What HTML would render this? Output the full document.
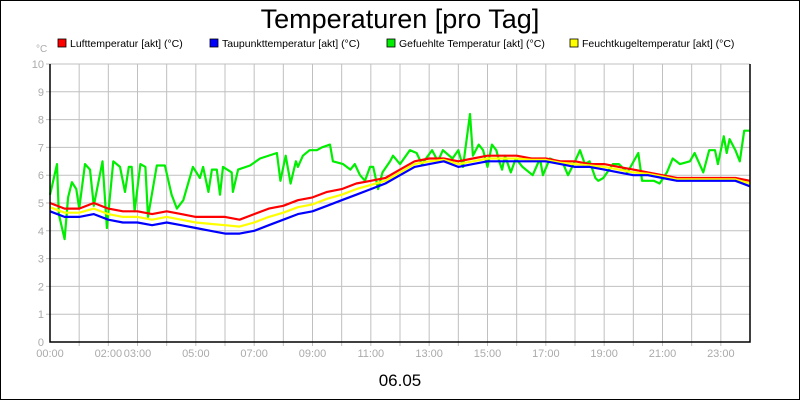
<!DOCTYPE html>
<html><head><meta charset="utf-8"><style>
body{margin:0;background:#fff}
svg{display:block;font-family:"Liberation Sans",sans-serif}
</style></head><body>
<svg id="c" width="800" height="400">
<rect x="0.5" y="0.5" width="799" height="399" fill="#fff" stroke="#000"/>
<text x="400" y="28" font-size="27" text-anchor="middle">Temperaturen [pro Tag]</text>
<text x="400" y="386" font-size="17" text-anchor="middle">06.05</text>
<text x="36" y="52" font-size="10" fill="#aaa">°C</text>
<g id="legend"></g>
<g id="grid"></g>
<g id="series"></g>
<g id="axes"></g>
</svg>
<script>
const halfHours=[];for(let i=0;i<=48;i++)halfHours.push(i/2);
const lufttemp=[5.0,4.8,4.8,5.0,4.8,4.7,4.7,4.6,4.7,4.6,4.5,4.5,4.5,4.4,4.6,4.8,4.9,5.1,5.2,5.4,5.5,5.7,5.8,5.9,6.2,6.5,6.6,6.6,6.5,6.6,6.7,6.7,6.7,6.6,6.6,6.5,6.5,6.4,6.4,6.3,6.2,6.1,6.0,5.9,5.9,5.9,5.9,5.9,5.8];
const taupunkt=[4.7,4.5,4.5,4.6,4.4,4.3,4.3,4.2,4.3,4.2,4.1,4.0,3.9,3.9,4.0,4.2,4.4,4.6,4.7,4.9,5.1,5.3,5.5,5.7,6.0,6.3,6.4,6.5,6.3,6.4,6.5,6.5,6.5,6.5,6.5,6.4,6.3,6.3,6.2,6.1,6.0,6.0,5.9,5.8,5.8,5.8,5.8,5.8,5.6];
const feuchtkugel=[4.85,4.65,4.65,4.8,4.6,4.5,4.5,4.4,4.5,4.4,4.3,4.25,4.2,4.15,4.3,4.5,4.65,4.85,4.95,5.15,5.3,5.5,5.65,5.8,6.1,6.4,6.5,6.55,6.4,6.5,6.6,6.6,6.6,6.55,6.55,6.45,6.4,6.35,6.3,6.2,6.1,6.05,5.95,5.85,5.85,5.85,5.85,5.85,5.7];
const greenHours=[0,0.07,0.24,0.3,0.5,0.62,0.75,0.9,1.0,1.2,1.37,1.5,1.8,1.95,2.17,2.4,2.57,2.7,2.8,2.9,3.1,3.27,3.36,3.66,3.94,4.17,4.35,4.57,4.9,5.14,5.25,5.43,5.55,5.72,5.83,5.93,6.23,6.27,6.45,6.86,7.2,7.78,7.9,8.08,8.25,8.43,8.5,8.67,8.9,9.15,9.32,9.6,9.7,10.05,10.3,10.45,10.63,10.8,10.97,11.08,11.25,11.4,11.66,11.76,12.0,12.34,12.57,12.75,13.1,13.3,13.47,13.8,14.0,14.16,14.4,14.5,14.7,14.85,15.0,15.15,15.3,15.4,15.5,15.6,15.8,15.97,16.2,16.55,16.8,16.9,17.14,17.6,17.76,18.0,18.17,18.34,18.5,18.7,18.8,18.97,19.3,19.5,19.8,20.17,20.3,20.7,20.9,21.15,21.35,21.6,21.94,22.1,22.4,22.6,22.8,22.9,23.1,23.2,23.3,23.5,23.65,23.8,24];
const gefuehlt=[5.3,5.6,6.4,4.6,3.7,5.2,5.75,5.5,4.8,6.4,6.2,4.9,6.5,4.1,6.5,6.3,5.4,6.3,6.3,4.7,6.4,6.3,4.5,6.35,6.35,5.3,4.8,5.1,6.3,5.9,6.3,5.4,6.2,6.2,5.3,6.3,6.1,5.4,6.2,6.35,6.6,6.8,5.8,6.7,5.7,6.5,6.3,6.7,6.9,6.9,7.0,7.1,6.5,6.4,6.2,6.4,6.0,5.8,6.3,6.3,5.5,6.1,6.5,6.7,6.4,6.9,6.8,6.4,6.9,6.5,6.9,6.6,6.9,6.3,8.2,6.7,7.1,6.9,6.3,7.1,6.9,6.5,6.2,6.7,6.1,6.6,6.3,6.0,6.6,6.0,6.6,6.4,6.0,6.5,6.9,6.4,6.5,5.9,5.8,5.9,6.4,6.4,6.1,6.8,5.8,5.8,5.7,6.1,6.6,6.4,6.5,6.8,6.1,6.9,6.9,6.4,7.4,6.8,7.3,6.9,6.5,7.6,7.6];
const yTicks=[0,1,2,3,4,5,6,7,8,9,10];
const xLabels=["00:00","02:00","03:00","05:00","07:00","09:00","11:00","13:00","15:00","17:00","19:00","21:00","23:00"];
const xLabelHours=[0,2,3,5,7,9,11,13,15,17,19,21,23];
const legendNames=["Lufttemperatur [akt] (°C)","Taupunkttemperatur [akt] (°C)","Gefuehlte Temperatur [akt] (°C)","Feuchtkugeltemperatur [akt] (°C)"];
const legendColors=["#ff0000","#0000ff","#00ee00","#ffff00"];

const L=50,R=750,T=64,B=342;
const xs=h=>L+h/24*(R-L);
const ys=v=>B-v/10*(B-T);
const NS="http://www.w3.org/2000/svg";
function mk(tag,attrs,parent){const e=document.createElementNS(NS,tag);for(const k in attrs)e.setAttribute(k,attrs[k]);parent.appendChild(e);return e;}
const grid=document.getElementById('grid'),axes=document.getElementById('axes'),ser=document.getElementById('series'),leg=document.getElementById('legend');
for(let h=1;h<24;h++){const l=mk('line',{x1:xs(h),x2:xs(h),y1:T,y2:B+4,stroke:'#c0c0c0'},grid);

}
yTicks.forEach(v=>{if(v>0){const l=mk('line',{x1:L-4,x2:R,y1:ys(v),y2:ys(v),stroke:'#c0c0c0'},grid);

}
const t=mk('text',{x:L-6,y:ys(v)+4,'font-size':11,fill:'#aaa','text-anchor':'end'},axes);t.textContent=v;

});
xLabels.forEach((s,i)=>{const t=mk('text',{x:xs(xLabelHours[i]),y:357,'font-size':11,fill:'#aaa','text-anchor':'middle'},axes);t.textContent=s;

});
function line(hours,vals,color,name){const d=hours.map((h,i)=>(i?'L':'M')+xs(h).toFixed(1)+','+ys(vals[i]).toFixed(1)).join('');
const p=mk('path',{d:d,fill:'none',stroke:color,'stroke-width':2.2,'stroke-linejoin':'round'},ser);

}
line(greenHours,gefuehlt,'#00ee00','gefuehlte-temperatur-line');
line(halfHours,lufttemp,'#ff0000','lufttemperatur-line');
line(halfHours,feuchtkugel,'#ffff00','feuchtkugeltemperatur-line');
line(halfHours,taupunkt,'#0000ff','taupunkttemperatur-line');
const ax=mk('path',{d:`M${L},${T}V${B}H${R}V${T}`,fill:'none',stroke:'#000','stroke-width':1.5},axes);


const legX=[58,210,387,570];
legendNames.forEach((n,i)=>{const g=mk('g',{},leg);


mk('rect',{x:legX[i],y:39,width:8,height:8,fill:legendColors[i],stroke:'#000','stroke-width':0.8},g);
const t=mk('text',{x:legX[i]+12,y:47,'font-size':10.5},g);t.textContent=n;});
</script>
</body></html>
